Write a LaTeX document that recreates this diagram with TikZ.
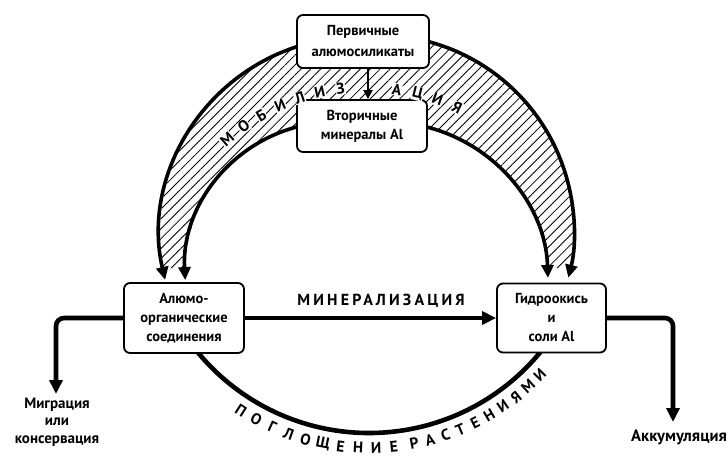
\documentclass[tikz,border=0pt]{standalone}
\usepackage{fontspec}
\setmainfont{PT Sans}
\usetikzlibrary{arrows.meta,patterns.meta}
\begin{document}
\begin{tikzpicture}[x=1pt,y=1pt,
  box/.style={draw,line width=1.8pt,rounded corners=6pt,fill=white,align=center,inner sep=0pt,font=\fontsize{14.5}{19}\selectfont\bfseries},
  flow/.style={line width=3.6pt,-{Triangle[length=13pt,width=12pt]}},
  thick flow/.style={line width=4.6pt,-{Triangle[length=14pt,width=13pt]}},
  lbl/.style={font=\fontsize{15}{17.5}\selectfont\bfseries,align=center,inner sep=0pt},
  arcletter/.style={font=\fontsize{15.5}{15.5}\selectfont\bfseries,inner sep=0pt},
  hatch/.style={pattern={Lines[angle=45,distance=7pt,line width=0.85pt]}}]
\path[use as bounding box] (0,0) rectangle (728,-459);

% hatched band (mobilisation)
\fill[hatch] (358,-235) ++(106:198) arc[start angle=106,end angle=189.6,radius=198]
  -- (185.05,-268.1) arc[start angle=178.5,end angle=102,radius=150]
  -- (420.5,-125.5) arc[start angle=78,end angle=5.3,radius=161]
  -- (570.5,-268.1) arc[start angle=-10.9,end angle=77,radius=196] -- cycle;

% arc start points
\path (358,-235) ++(106:198) coordinate (oL);
\path (378,-231) ++(77:196) coordinate (oR);
\path (335,-272) ++(102:150) coordinate (iL);
\path (387,-283) ++(78:161) coordinate (iR);
\path (369,-211) ++(218:222) coordinate (bL);

\draw[flow] (oL) arc[start angle=106,end angle=193.1,radius=198];
\draw[flow] (oR) arc[start angle=77,end angle=-13.8,radius=196];
\draw[flow] (iL) arc[start angle=102,end angle=183.1,radius=150];
\draw[flow] (iR) arc[start angle=78,end angle=1.8,radius=161];
\draw[line width=4.6pt] (bL) arc[start angle=218,end angle=322,radius=222];

% boxes
\node[box,minimum width=132pt,minimum height=53pt,font=\fontsize{14.5}{21}\selectfont\bfseries] (b1) at (363,-41.5) {Первичные\\алюмосиликаты};
\node[box,minimum width=130pt,minimum height=52pt] (b2) at (362,-126) {Вторичные\\минералы Al};
\node[box,minimum width=120pt,minimum height=70pt] (b3) at (184,-318) {Алюмо-\\органические\\соединения};
\node[box,minimum width=109pt,minimum height=69pt] (b4) at (551.5,-318) {Гидроокись\\и\\соли Al};

\draw[line width=2.6pt,-{Triangle[length=9pt,width=9pt]}] (b1.south) ++(5pt,0) coordinate (a1) -- (a1 |- b2.north);

% mineralisation
\draw[thick flow] (b3) -- (b4);
\node[font=\fontsize{16}{16}\selectfont\bfseries\addfontfeature{LetterSpace=20}] (min) at (381,-301) {МИНЕРАЛИЗАЦИЯ};

% exits
\node[lbl] (migr) at (57,-422) {Миграция\\или\\консервация};
\node[lbl,font=\fontsize{16.5}{18}\selectfont\bfseries] (acc) at (679,-437) {Аккумуляция};
\coordinate (mtip) at (56,-394);
\coordinate (atip) at (673,-422);
\draw[thick flow,rounded corners=8pt] (b3.west) -| (mtip);
\draw[thick flow,rounded corners=8pt] (b4.east) -| (atip);

% МОБИЛИЗАЦИЯ along the band
\foreach \a/\l [count=\i] in {131.6/М,125.8/О,120.1/Б,114.3/И,108.5/Л,102.8/И,97/З,81.5/А,75.7/Ц,70/И,64.2/Я}
  \node[arcletter,fill=white,inner sep=0.6pt,rotate=\a-90] (mob\i) at ([shift={(\a:209)}]366,-296) {\l};

% ПОГЛОЩЕНИЕ РАСТЕНИЯМИ below the bottom arc
\foreach \a/\l [count=\i] in {-122.7/П,-118.4/О,-114.1/Г,-109.8/Л,-105.5/О,-101.2/Щ,-96.9/Е,-92.6/Н,-88.3/И,-84/Е,-79/Р,-75.1/А,-71.2/С,-67.3/Т,-63.4/Е,-59.5/Н,-55.6/И,-51.7/Я,-47.8/М,-43.9/И}
  \node[arcletter,rotate=\a+90] (pog\i) at ([shift={(\a:237)}]369,-211) {\l};
\end{tikzpicture}
\end{document}
